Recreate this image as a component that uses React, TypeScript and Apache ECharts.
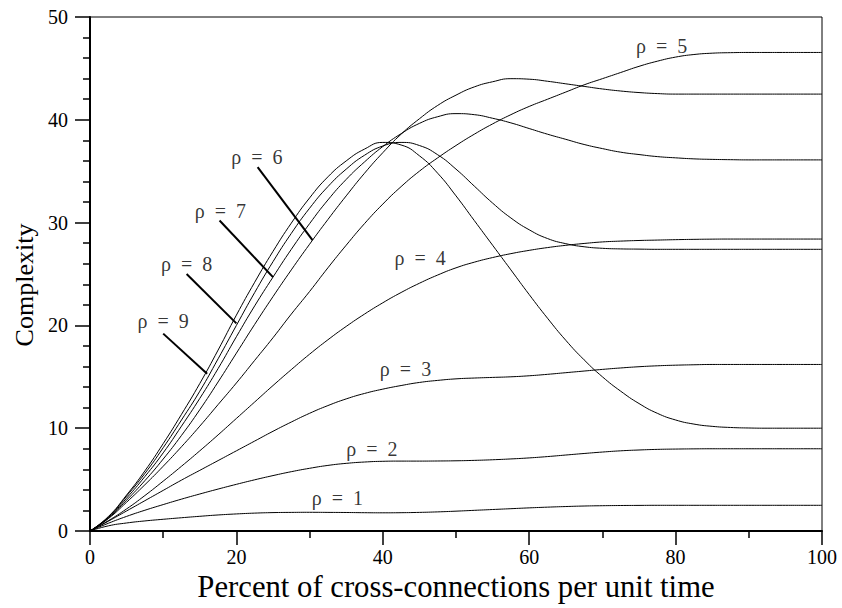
import React, { useEffect, useRef } from "react";
import * as echarts from "echarts";

const FONT = "Liberation Serif";

// x positions (percent of cross-connections per unit time), every 2.5
const xs = [0, 2.5, 5, 7.5, 10, 12.5, 15, 17.5, 20, 22.5, 25, 27.5, 30, 32.5, 35, 37.5, 40, 42.5, 45, 47.5, 50, 52.5, 55, 57.5, 60, 62.5, 65, 67.5, 70, 72.5, 75, 77.5, 80, 82.5, 85, 87.5, 90, 92.5, 95, 97.5, 100];

const rho1 = [0, 0.5, 0.78, 0.98, 1.14, 1.29, 1.43, 1.56, 1.66, 1.74, 1.79, 1.81, 1.82, 1.81, 1.8, 1.78, 1.77, 1.78, 1.81, 1.86, 1.93, 2.01, 2.09, 2.17, 2.25, 2.32, 2.38, 2.43, 2.46, 2.48, 2.49, 2.5, 2.5, 2.5, 2.5, 2.5, 2.5, 2.5, 2.5, 2.5, 2.5];
const rho2 = [0, 0.75, 1.42, 2.02, 2.57, 3.1, 3.6, 4.08, 4.54, 4.98, 5.39, 5.77, 6.1, 6.38, 6.58, 6.71, 6.78, 6.8, 6.8, 6.81, 6.83, 6.87, 6.93, 7.01, 7.11, 7.24, 7.39, 7.54, 7.68, 7.8, 7.88, 7.94, 7.97, 7.99, 8.0, 8.0, 8.0, 8.0, 8.0, 8.0, 8.0];
const rho3 = [0, 0.95, 1.95, 2.95, 3.95, 4.95, 5.9, 6.85, 7.8, 8.75, 9.7, 10.6, 11.45, 12.2, 12.85, 13.38, 13.8, 14.15, 14.45, 14.65, 14.8, 14.88, 14.94, 15.0, 15.1, 15.24, 15.4, 15.56, 15.72, 15.86, 15.98, 16.07, 16.13, 16.17, 16.2, 16.2, 16.2, 16.2, 16.2, 16.2, 16.2];
const rho4 = [0, 1.0, 2.15, 3.45, 4.85, 6.3, 7.8, 9.35, 10.95, 12.55, 14.15, 15.7, 17.2, 18.6, 19.9, 21.1, 22.2, 23.2, 24.1, 24.9, 25.6, 26.15, 26.6, 26.98, 27.3, 27.57, 27.79, 27.97, 28.12, 28.2, 28.26, 28.3, 28.34, 28.37, 28.39, 28.4, 28.4, 28.4, 28.4, 28.4, 28.4];
const rho5 = [0, 1.2, 2.8, 4.5, 6.3, 8.2, 10.2, 12.3, 14.4, 16.6, 18.8, 21.1, 23.3, 25.6, 27.8, 29.9, 31.8, 33.5, 35.0, 36.3, 37.5, 38.6, 39.6, 40.5, 41.3, 42.0, 42.7, 43.4, 44.0, 44.6, 45.2, 45.7, 46.1, 46.35, 46.48, 46.53, 46.55, 46.55, 46.55, 46.55, 46.55];
const rho6 = [0, 1.25, 3.0, 4.9, 7.0, 9.3, 11.8, 14.5, 17.3, 20.1, 22.8, 25.4, 27.9, 30.3, 32.6, 34.8, 36.8, 38.6, 40.1, 41.4, 42.4, 43.2, 43.7, 44.0, 43.95, 43.75, 43.5, 43.25, 43.0, 42.8, 42.65, 42.55, 42.5, 42.5, 42.5, 42.5, 42.5, 42.5, 42.5, 42.5, 42.5];
const rho7 = [0, 1.3, 3.2, 5.3, 7.6, 10.2, 12.9, 15.8, 18.9, 21.9, 24.7, 27.4, 29.9, 32.2, 34.2, 35.9, 37.4, 38.65, 39.65, 40.3, 40.6, 40.5, 40.15, 39.7, 39.15, 38.6, 38.1, 37.6, 37.2, 36.85, 36.62, 36.42, 36.3, 36.2, 36.15, 36.12, 36.1, 36.1, 36.1, 36.1, 36.1];
const rho8 = [0, 1.35, 3.4, 5.6, 8.1, 10.8, 13.6, 16.75, 20.0, 23.2, 26.2, 28.95, 31.4, 33.5, 35.2, 36.55, 37.45, 37.8, 37.5, 36.6, 35.2, 33.55, 31.9, 30.45, 29.3, 28.45, 27.95, 27.65, 27.5, 27.44, 27.42, 27.4, 27.4, 27.4, 27.4, 27.4, 27.4, 27.4, 27.4, 27.4, 27.4];
const rho9 = [0, 1.4, 3.5, 5.85, 8.5, 11.35, 14.35, 17.6, 21.0, 24.2, 27.2, 29.95, 32.4, 34.45, 36.0, 37.15, 37.8, 37.55, 36.5, 34.8, 32.6, 30.2, 27.8, 25.4, 23.0, 20.7, 18.55, 16.65, 15.0, 13.6, 12.4, 11.45, 10.8, 10.4, 10.18, 10.07, 10.02, 10.0, 10.0, 10.0, 10.0];

const seriesValues = [rho1, rho2, rho3, rho4, rho5, rho6, rho7, rho8, rho9];
const seriesNames = ["ρ  =  1", "ρ  =  2", "ρ  =  3", "ρ  =  4", "ρ  =  5", "ρ  =  6", "ρ  =  7", "ρ  =  8", "ρ  =  9"];

// curve labels (data coordinates of text centre)
const labelX = [33.8, 38.5, 43.1, 45.1, 78.1, 22.8, 17.8, 13.2, 10.0];
const labelY = [3.2, 8.0, 15.8, 26.6, 47.2, 36.4, 31.1, 26.0, 20.4];

// leader lines for ρ = 6..9 (data coordinates)
const leaderFrom = [[22.9, 35.4], [17.7, 30.2], [13.2, 25.0], [10.0, 19.2]];
const leaderTo = [[30.4, 28.3], [25.0, 24.7], [20.0, 20.2], [16.0, 15.3]];

const xTitle = "Percent of cross-connections per unit time";
const yTitle = "Complexity";

export default function App() {
  const ref = useRef<HTMLDivElement>(null);

  useEffect(() => {
    if (!ref.current) return;
    const chart = echarts.init(ref.current, undefined, { renderer: "svg" });

    const curveSeries = seriesValues.map((vals, i) => ({
      type: "line",
      name: seriesNames[i],
      data: xs.map((x, j) => [x, vals[j]]),
      showSymbol: false,
      symbol: "none",
      smooth: 0.5,
      lineStyle: { color: "#000", width: 1 },
      z: 3,
    }));

    const labelSeries = {
      type: "scatter",
      symbolSize: 1,
      itemStyle: { color: "rgba(0,0,0,0)" },
      data: seriesNames.map((n, i) => ({ name: n, value: [labelX[i], labelY[i]] })),
      label: {
        show: true,
        position: "inside",
        formatter: (p: any) => p.name,
        fontFamily: FONT,
        fontSize: 20,
        color: "#000",
      },
      z: 5,
      silent: true,
    };

    const leaderSeries = {
      type: "lines",
      coordinateSystem: "cartesian2d",
      data: leaderFrom.map((f, i) => ({ coords: [f, leaderTo[i]] })),
      lineStyle: { color: "#000", width: 2, opacity: 1 },
      z: 4,
      silent: true,
    };

    chart.setOption({
      animation: false,
      backgroundColor: "#fff",
      textStyle: { fontFamily: FONT, color: "#000" },
      grid: {
        left: 90,
        right: 20,
        top: 17,
        bottom: 77,
        show: true,
        borderColor: "#000",
        borderWidth: 1,
        backgroundColor: "transparent",
      },
      xAxis: {
        type: "value",
        min: 0,
        max: 100,
        interval: 20,
        name: xTitle,
        nameLocation: "middle",
        nameGap: 37,
        nameTextStyle: { fontFamily: FONT, fontSize: 30.7, color: "#000", verticalAlign: "top" },
        axisLine: { show: true, onZero: false, lineStyle: { color: "#000", width: 2 } },
        axisTick: { show: true, inside: false, length: 14, lineStyle: { color: "#000", width: 1.5 } },
        minorTick: { show: true, splitNumber: 2, length: 7, lineStyle: { color: "#000", width: 1.5 } },
        axisLabel: { fontFamily: FONT, fontSize: 20, color: "#000", margin: 16 },
        splitLine: { show: false },
        minorSplitLine: { show: false },
      },
      yAxis: {
        type: "value",
        min: 0,
        max: 50,
        interval: 10,
        name: yTitle,
        nameLocation: "middle",
        nameGap: 50,
        nameTextStyle: { fontFamily: FONT, fontSize: 26, color: "#000", padding: [0, 22, 0, 0] },
        axisLine: { show: true, onZero: false, lineStyle: { color: "#000", width: 2 } },
        axisTick: { show: true, inside: false, length: 15, lineStyle: { color: "#000", width: 1.5 } },
        minorTick: { show: true, splitNumber: 5, length: 7, lineStyle: { color: "#000", width: 1.5 } },
        axisLabel: { fontFamily: FONT, fontSize: 20, color: "#000", margin: 22 },
        splitLine: { show: false },
        minorSplitLine: { show: false },
      },
      series: [...curveSeries, leaderSeries, labelSeries],
    });

    return () => chart.dispose();
  }, []);

  return (
    <div
      ref={ref}
      style={{ position: "fixed", left: 0, top: 0, width: 842, height: 608, background: "#fff" }}
    />
  );
}
